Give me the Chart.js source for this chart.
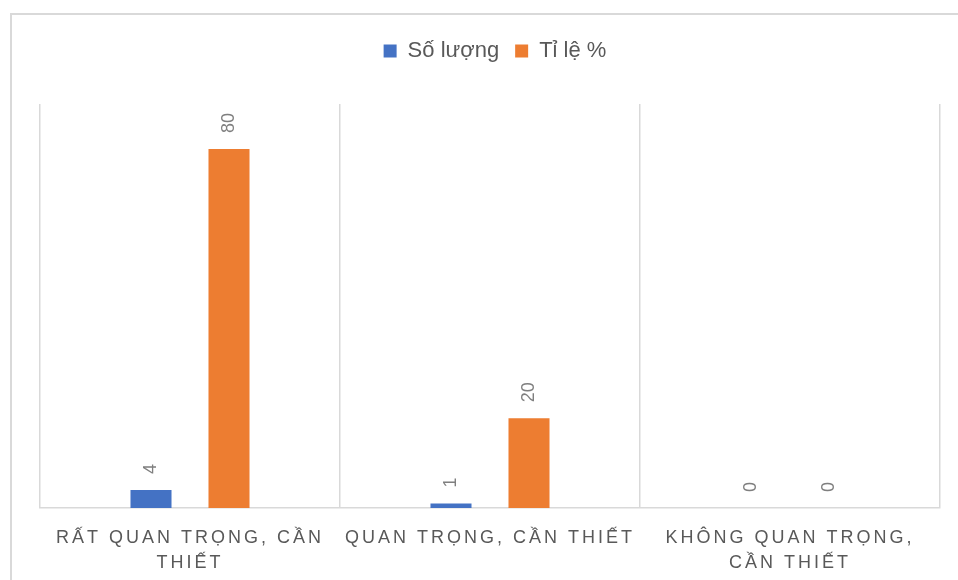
<!DOCTYPE html>
<html>
<head>
<meta charset="utf-8">
<script src="https://cdn.jsdelivr.net/npm/chart.js@4.4.1/dist/chart.umd.min.js"></script>
<style>
  html, body { margin: 0; padding: 0; background: #fff; }
  #wrap { position: relative; width: 958px; height: 580px; }
</style>
</head>
<body>
<div id="wrap"><canvas id="c" width="958" height="580"></canvas></div>
<script>
// Survey answers: how important / necessary the item is
const categories = [
  ["RẤT QUAN TRỌNG, CẦN", "THIẾT"],
  "QUAN TRỌNG, CẦN THIẾT",
  ["KHÔNG QUAN TRỌNG,", "CẦN THIẾT"]
];
const seriesNames = ["Số lượng", "Tỉ lệ %"];
const countValues = [4, 1, 0];
const percentValues = [80, 20, 0];

const FONT = '"Liberation Sans", Arial, sans-serif';
const GRID = '#d9d9d9';

// Light outer frame around the whole chart
const frame = {
  id: 'frame',
  beforeDraw(chart) {
    const ctx = chart.ctx;
    ctx.save();
    ctx.strokeStyle = GRID;
    ctx.lineWidth = 2;
    ctx.strokeRect(11, 14, 980, 620);
    ctx.restore();
  }
};

// Extra space between the legend and the plot, legend nudged a little right
const legendGap = {
  id: 'legendGap',
  beforeInit(chart) {
    const fit = chart.legend.fit;
    chart.legend.fit = function () {
      fit.call(this);
      this.height += 32;
      if (this.lineWidths && this.lineWidths.length) this.lineWidths[0] -= 10;
    };
  }
};

// Vertical value labels above each bar
const valueLabels = {
  id: 'valueLabels',
  afterDatasetsDraw(chart) {
    const ctx = chart.ctx;
    ctx.save();
    ctx.font = '18px ' + FONT;
    ctx.fillStyle = '#7f7f7f';
    ctx.textAlign = 'left';
    ctx.textBaseline = 'middle';
    chart.data.datasets.forEach((ds, i) => {
      chart.getDatasetMeta(i).data.forEach((bar, j) => {
        ctx.save();
        ctx.translate(bar.x, bar.y - 16);
        ctx.rotate(-Math.PI / 2);
        ctx.fillText(String(ds.data[j]), 0, 0);
        ctx.restore();
      });
    });
    ctx.restore();
  }
};

new Chart(document.getElementById('c'), {
  type: 'bar',
  data: {
    labels: categories,
    datasets: [
      {
        label: seriesNames[0],
        data: countValues,
        backgroundColor: '#4472C4',
        categoryPercentage: 0.52,
        barPercentage: 0.526
      },
      {
        label: seriesNames[1],
        data: percentValues,
        backgroundColor: '#ED7D31',
        categoryPercentage: 0.52,
        barPercentage: 0.526
      }
    ]
  },
  options: {
    responsive: false,
    animation: false,
    devicePixelRatio: 1,
    layout: { padding: { left: 40, right: 18, top: 24, bottom: 4 } },
    plugins: {
      legend: {
        position: 'top',
        labels: {
          boxWidth: 13,
          boxHeight: 13,
          padding: 16,
          color: '#595959',
          font: { family: FONT, size: 22 }
        }
      },
      tooltip: { enabled: false }
    },
    scales: {
      x: {
        grid: { offset: true, color: GRID, lineWidth: 1.5, drawTicks: false },
        border: { display: true, color: GRID, width: 1.5 },
        ticks: {
          color: '#595959',
          padding: 18,
          maxRotation: 0,
          autoSkip: false,
          font: { family: FONT, size: 18, lineHeight: 25 / 18 }
        },
        afterFit(scale) {
          scale.height -= 18;
          if (!scale.$spaced) {
            const draw = scale.drawLabels;
            scale.drawLabels = function (area) {
              const ctx = this.ctx;
              ctx.save();
              ctx.letterSpacing = '3px';
              draw.call(this, area);
              ctx.restore();
            };
            scale.$spaced = true;
          }
        }
      },
      y: { display: false, min: 0, max: 90 }
    }
  },
  plugins: [frame, legendGap, valueLabels]
});
</script>
</body>
</html>
